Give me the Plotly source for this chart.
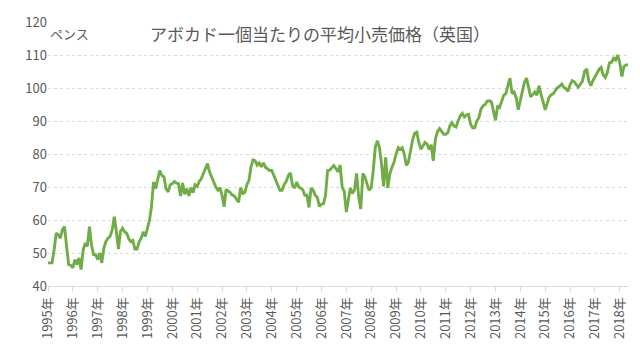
import plotly.graph_objects as go
import pandas as pd

# Monthly average retail price of one avocado (UK), pence, Jan 1995 - May 2018
y1995 = [47, 47, 47, 51, 56, 55.5, 54.5, 57, 58, 52, 46.5, 46.3]
y1996 = [45.5, 48, 46.5, 48.5, 45, 51, 53, 52, 58, 52.5, 49.5, 49.5]
y1997 = [48, 50, 47, 51.5, 53.5, 54.5, 55, 57, 61, 56.5, 51.2, 56.5]
y1998 = [57.5, 56.4, 56, 54.4, 53.4, 53.8, 51.2, 51.2, 53.4, 54.5, 56.4, 55]
y1999 = [58, 60, 64, 71.5, 69.5, 72.5, 75, 73.5, 73, 69.5, 68.5, 70.7]
y2000 = [71, 71.7, 71.2, 71, 67.3, 71.2, 67.8, 69.5, 67.3, 69.8, 68.3, 70.7]
y2001 = [70.2, 71.7, 72.5, 74, 75.5, 77.1, 74.6, 73, 71, 70, 69, 69.8]
y2002 = [67.5, 64, 69.3, 68.8, 68.3, 67.5, 67.3, 66.3, 65.4, 69.8, 68, 68.3]
y2003 = [70.7, 72, 76, 78.2, 78, 76.6, 77.3, 76.1, 77.3, 76, 75.5, 75]
y2004 = [75, 73.5, 72.5, 71, 69, 69, 70.7, 71.7, 73.5, 74.3, 70.5, 69.7]
y2005 = [71.5, 70, 69.7, 69.2, 67.5, 67.5, 63.8, 69.7, 69, 67.5, 66.8, 64.1]
y2006 = [64.8, 65, 67.5, 75, 75.1, 75.8, 76.5, 75.6, 74.6, 76.6, 70, 68.7]
y2007 = [62.4, 66.3, 69.7, 68, 69.2, 74.1, 67, 63.3, 74.1, 73, 71, 69]
y2008 = [69.7, 75, 82, 84, 82, 77, 70.2, 79, 69.7, 74, 76, 77.5]
y2009 = [80, 81.9, 81.4, 81.9, 80, 76.5, 77.5, 81.4, 84.3, 86.3, 86.6, 83.5]
y2010 = [81.4, 82.5, 83.5, 83, 81.4, 82.8, 77.9, 84.5, 86.8, 87.7, 86.8, 86]
y2011 = [86, 86.5, 88.5, 89.5, 88.5, 88.2, 90, 91.5, 92.3, 91.2, 91.8, 92]
y2012 = [89, 87.9, 88, 90, 91, 93.6, 94.6, 95, 96, 96.1, 95.8, 93]
y2013 = [90.2, 94.6, 94.1, 96, 97.8, 98.3, 100.5, 103, 98.3, 98.8, 97, 93.4]
y2014 = [96.3, 99.3, 101.7, 103, 100.2, 97.3, 98, 98.8, 97.8, 100.7, 98, 95.5]
y2015 = [93.4, 95.4, 97.3, 98, 98.3, 99.3, 100.2, 100.5, 101.2, 100.2, 99.8, 99]
y2016 = [101, 102.2, 101.9, 101, 100.2, 101.2, 102, 105, 105.8, 102.2, 100.7, 102.2]
y2017 = [103.5, 104.6, 105.6, 106.2, 104, 103.2, 104.6, 107.6, 107.8, 109, 108.5, 110]
y2018 = [107.5, 103.5, 106.5, 107, 107]

prices = (y1995 + y1996 + y1997 + y1998 + y1999 + y2000 + y2001 + y2002 + y2003
          + y2004 + y2005 + y2006 + y2007 + y2008 + y2009 + y2010 + y2011 + y2012
          + y2013 + y2014 + y2015 + y2016 + y2017 + y2018)
months = pd.date_range("1995-01-01", periods=len(prices), freq="MS")

title_text = "アボカド一個当たりの平均小売価格（英国）"
unit_text = "ペンス"

FONT = "Noto Sans CJK JP, Noto Sans, Liberation Sans, sans-serif"
GRAY = "#595959"

fig = go.Figure()
fig.add_trace(go.Scatter(
    x=months, y=prices, mode="lines",
    line=dict(color="#70ad47", width=2.9),
    hoverinfo="skip", showlegend=False,
))

fig.update_layout(
    width=640, height=356,
    margin=dict(l=48, r=12, t=16, b=70),
    paper_bgcolor="white", plot_bgcolor="white",
    font=dict(family=FONT, color=GRAY, size=13),
    xaxis=dict(
        type="date",
        range=[months[0], months[-1]],
        tick0="1995-01-01", dtick="M12",
        tickformat="%Y年",
        tickangle=-90,
        ticks="outside", ticklen=5, tickcolor="#d9d9d9",
        showgrid=False,
        showline=True, linecolor="#d9d9d9", linewidth=1,
        tickfont=dict(size=13, color=GRAY),
        fixedrange=True,
    ),
    yaxis=dict(
        range=[40, 120], dtick=10,
        showgrid=True, gridcolor="#d9d9d9", griddash="dot", gridwidth=1,
        zeroline=False, showline=False,
        ticks="", tickfont=dict(size=13, color=GRAY),
        fixedrange=True,
    ),
    annotations=[
        dict(text=title_text, xref="paper", yref="paper", x=0.469, y=0.955,
             xanchor="center", yanchor="middle", showarrow=False,
             font=dict(size=17, color=GRAY, family=FONT)),
        dict(text=unit_text, xref="paper", yref="paper", x=0.0, y=0.958,
             xanchor="left", yanchor="middle", showarrow=False,
             font=dict(size=13, color=GRAY, family=FONT)),
    ],
)

fig.write_html("out.html", config={"displayModeBar": False, "staticPlot": True},
               post_script="document.body.style.margin='0';")
